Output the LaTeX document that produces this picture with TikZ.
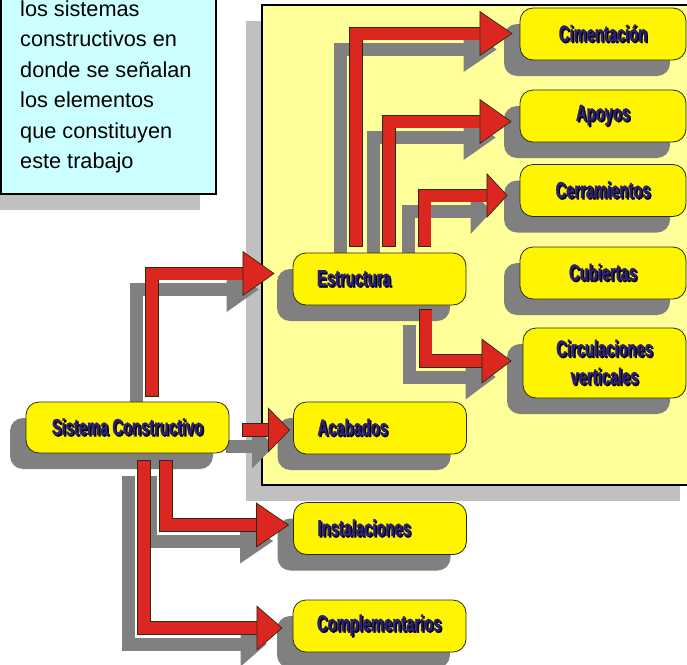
\documentclass[tikz,border=0pt]{standalone}
\usepackage{fontspec}
\setmainfont{Liberation Sans}
\newfontfamily\cajafont[FakeStretch=0.64,FakeBold=1.2]{Liberation Sans}
\usetikzlibrary{arrows.meta,shadows}

\definecolor{amarillo}{HTML}{FFF500}
\definecolor{fondoam}{HTML}{FFFF99}
\definecolor{celeste}{HTML}{CCFFFF}
\definecolor{rojo}{HTML}{DC2620}
\definecolor{gris}{HTML}{808080}
\definecolor{grisclaro}{HTML}{C0C0C0}
\definecolor{azul}{HTML}{2A1E78}
\definecolor{linea}{HTML}{2B2B10}

\pgfdeclarelayer{fondo}
\pgfdeclarelayer{sombras}
\pgfsetlayers{fondo,sombras,main}

% texto con sombra negra
\newcommand{\conSombra}[1]{\rlap{\hspace{1.5pt}\raisebox{-1.5pt}{\color{black}#1}}#1}

\tikzset{
  caja/.style={draw=linea, fill=amarillo, line width=0.8pt, rounded corners=13pt,
    minimum height=52pt, text=azul, font=\cajafont\bfseries\fontsize{23}{28}\selectfont,
    drop shadow={shadow xshift=-16pt, shadow yshift=-16pt, fill=gris, opacity=1}},
  izq/.style={caja, minimum width=173pt, text width=125pt, inner xsep=24pt, align=left},
  der/.style={caja, minimum width=166pt, align=center},
  flecha/.style={draw=rojo, line width=12pt, shorten <=0.7pt,
    -{Triangle[width=45pt,length=#1,line width=0.7pt,color=linea,fill=rojo]},
    preaction={draw=linea, line width=13.4pt, -, shorten <=0pt, shorten >=#1-2pt}},
  sombraflecha/.style={draw=gris, line width=13pt,
    -{Triangle[width=45pt,length=#1,line width=0pt,color=gris,fill=gris]},
    transform canvas={shift={(-16pt,-16pt)}}}
}

% flecha de bloque con su sombra
\newcommand{\flecha}[2][32pt]{%
  \begin{pgfonlayer}{sombras}\draw[sombraflecha=#1] #2;\end{pgfonlayer}
  \draw[flecha=#1] #2;}

\begin{document}
\begin{tikzpicture}[x=1pt,y=-1pt]
\useasboundingbox (0,0) rectangle (687,664);

\begin{pgfonlayer}{fondo}
% recuadro de la nota
\fill[grisclaro] (-15,-44) rectangle (200,210);
\draw[fill=celeste, line width=1.2pt] (1,-60) rectangle (216,194);
% recuadro de la estructura
\fill[grisclaro] (246,21) rectangle (680,501);
\draw[fill=fondoam, line width=1.6pt] (262,5) rectangle (696,485);
\end{pgfonlayer}

\node[anchor=north west, inner sep=0pt, align=left, font=\fontsize{21.7}{30.4}\selectfont] (nota) at (20,0.5)
  {los sistemas\\constructivos en\\donde se señalan\\los elementos\\que constituyen\\este trabajo};

\node[caja, minimum width=203pt, minimum height=51pt] (sis) at (127.5,427.5) {\conSombra{Sistema Constructivo}};
\node[izq] (est) at (379.5,279) {\conSombra{Estructura}};
\node[izq] (aca) at (380,428) {\conSombra{Acabados}};
\node[izq] (ins) at (380,528.5) {\conSombra{Instalaciones}};
\node[izq] (com) at (379.5,626) {\conSombra{Complementarios}};

\node[der] (cim) at (603,34) {\conSombra{Cimentación}};
\node[der] (apo) at (603,116) {\conSombra{Apoyos}};
\node[der] (cer) at (603,190.5) {\conSombra{Cerramientos}};
\node[der] (cub) at (603,273) {\conSombra{Cubiertas}};
\node[der, minimum width=163pt, minimum height=70pt] (cir) at (604.5,363) {\conSombra{Circulaciones}\\\conSombra{verticales}};

\flecha{([xshift=24.5pt,yshift=5pt]sis.north) |- ([xshift=-18pt,yshift=5.5pt]est.west)}
\flecha[22pt]{([xshift=13pt,yshift=-2.5pt]sis.east) -- ([xshift=-3pt,yshift=-2pt]aca.west)}
\flecha[33pt]{([xshift=38.5pt,yshift=-7pt]sis.south) |- ([xshift=-4pt,yshift=3.5pt]ins.west)}
\flecha[26pt]{([xshift=16.5pt,yshift=-7pt]sis.south) |- ([xshift=-10pt,yshift=-2pt]com.west)}

\flecha[30pt]{([xshift=46pt,yshift=-4pt]est.south) |- ([xshift=-11pt,yshift=2pt]cir.west)}
\flecha[33pt]{([xshift=-23.5pt,yshift=6pt]est.north) |- ([xshift=-7pt,yshift=0.5pt]cim.west)}
\flecha{([xshift=9.5pt,yshift=6pt]est.north) |- ([xshift=-8pt,yshift=-5.5pt]apo.west)}
\flecha[21pt]{([xshift=45pt,yshift=6pt]est.north) |- ([xshift=-12pt,yshift=-5pt]cer.west)}

\end{tikzpicture}
\end{document}
